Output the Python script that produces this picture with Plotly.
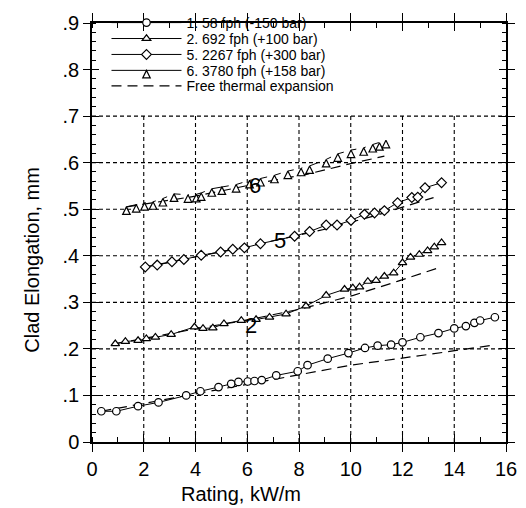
import plotly.graph_objects as go

# ---------------- data ----------------
x_ticks = [0, 2, 4, 6, 8, 10, 12, 14, 16]
x_tick_labels = ["0", "2", "4", "6", "8", "10", "12", "14", "16"]
y_ticks = [0, 0.1, 0.2, 0.3, 0.4, 0.5, 0.6, 0.7, 0.8, 0.9]
y_tick_labels = ["0", ".1", ".2", ".3", ".4", ".5", ".6", ".7", ".8", ".9"]

series_names = ["1. 58 fph (-150 bar)", "2. 692 fph (+100 bar)",
                "5. 2267 fph (+300 bar)", "6. 3780 fph (+158 bar)"]
thermal_name = "Free thermal expansion"

s1_x = [0.36, 0.94, 1.78, 2.57, 3.64, 4.19, 4.89, 5.38, 5.66, 6.02, 6.28, 6.56, 7.12, 7.95,
        8.33, 9.11, 9.91, 10.55, 11.04, 11.56, 12.0, 12.69, 13.39, 14.0, 14.45, 14.78, 15.0, 15.57]
s1_y = [0.066, 0.066, 0.077, 0.085, 0.100, 0.109, 0.118, 0.125, 0.129, 0.130, 0.131, 0.133, 0.143, 0.152,
        0.165, 0.179, 0.191, 0.202, 0.207, 0.209, 0.214, 0.225, 0.234, 0.244, 0.249, 0.256, 0.261, 0.268]

s2_x = [0.90, 1.29, 1.78, 2.10, 2.45, 3.06, 3.96, 4.29, 4.67, 5.10, 5.77, 6.34, 6.86, 7.50, 8.27,
        9.05, 9.76, 10.08, 10.34, 10.66, 10.98, 11.30, 11.66, 12.0, 12.31, 12.65, 12.97, 13.23, 13.51]
s2_y = [0.211, 0.216, 0.218, 0.222, 0.225, 0.231, 0.247, 0.244, 0.245, 0.254, 0.261, 0.263, 0.268, 0.275, 0.292,
        0.315, 0.328, 0.331, 0.333, 0.345, 0.347, 0.356, 0.363, 0.385, 0.397, 0.403, 0.411, 0.419, 0.428]

s3_x = [2.06, 2.52, 3.09, 3.55, 4.22, 4.97, 5.44, 5.89, 6.51, 7.83, 8.41, 9.05, 9.47, 10.01,
        10.53, 10.92, 11.30, 11.81, 12.36, 12.59, 12.87, 13.51]
s3_y = [0.376, 0.380, 0.387, 0.392, 0.401, 0.408, 0.414, 0.417, 0.426, 0.442, 0.452, 0.466, 0.466, 0.476,
        0.489, 0.492, 0.497, 0.514, 0.525, 0.526, 0.546, 0.557]

s4_x = [1.33, 1.71, 2.03, 2.36, 2.74, 3.17, 3.71, 4.03, 4.22, 4.63, 5.02, 5.57, 6.09, 6.51, 7.05,
        7.57, 8.08, 8.41, 9.05, 9.50, 10.01, 10.50, 10.85, 11.11, 11.36]
s4_y = [0.505, 0.510, 0.514, 0.516, 0.523, 0.533, 0.531, 0.532, 0.535, 0.544, 0.548, 0.553, 0.562, 0.566, 0.573,
        0.582, 0.588, 0.593, 0.607, 0.619, 0.627, 0.632, 0.639, 0.643, 0.648]

t1_x = [0.36, 4.0, 7.5, 10.0, 13.0, 15.5]
t1_y = [0.066, 0.103, 0.140, 0.165, 0.188, 0.208]
t2_x = [0.90, 4.0, 6.0, 8.0, 9.5, 10.1, 11.8, 13.5]
t2_y = [0.211, 0.243, 0.262, 0.285, 0.306, 0.315, 0.345, 0.376]
t3_x = [2.06, 6.0, 9.0, 11.0, 13.2]
t3_y = [0.376, 0.420, 0.457, 0.487, 0.525]
t4_x = [1.33, 4.0, 7.0, 8.3, 10.0, 11.3]
t4_y = [0.505, 0.528, 0.562, 0.575, 0.598, 0.614]

curve_labels = ["2", "5", "6"]
curve_label_x = [6.13, 7.25, 6.28]
curve_label_y = [0.251, 0.432, 0.552]

# ---------------- figure ----------------
FONT = "Liberation Sans, Arial, sans-serif"
fig = go.Figure()

legend_ids = ["legend", "legend2", "legend3", "legend4", "legend5"]
series = [(s1_x, s1_y, "circle"), (s2_x, s2_y, "triangle-up"),
          (s3_x, s3_y, "diamond"), (s4_x, s4_y, "arrow-up")]
thermals = [(t1_x, t1_y), (t2_x, t2_y), (t3_x, t3_y), (t4_x, t4_y)]

for i, (tx, ty) in enumerate(thermals):
    fig.add_trace(go.Scatter(
        x=tx, y=ty, mode="lines", name=thermal_name,
        line=dict(color="black", width=1.2, dash="10px,6px"),
        showlegend=(i == 0), legendgroup="thermal", legend=legend_ids[4],
        hoverinfo="skip"))

for i, ((sx, sy, sym), name) in enumerate(zip(series, series_names)):
    fig.add_trace(go.Scatter(
        x=sx, y=sy, mode="lines+markers", name=name, legend=legend_ids[i],
        line=dict(color="black", width=1),
        marker=dict(symbol=sym, size=7.5, color="white",
                    line=dict(color="black", width=1.2))))

# overlay axes for the inner half of the crossing major ticks
fig.add_trace(go.Scatter(x=[], y=[], xaxis="x2", yaxis="y2", showlegend=False))

# dashed grid (only up to .7)
for v in x_ticks[1:-1]:
    fig.add_shape(type="line", x0=v, x1=v, y0=0, y1=y_ticks[7], xref="x", yref="y",
                  line=dict(color="black", width=1.1, dash="4px,3px"), layer="below")
for v in y_ticks[1:8]:
    fig.add_shape(type="line", x0=x_ticks[0], x1=x_ticks[-1], y0=v, y1=v, xref="x", yref="y",
                  line=dict(color="black", width=1.1, dash="4px,3px"), layer="below")

for t, lx, ly in zip(curve_labels, curve_label_x, curve_label_y):
    fig.add_annotation(x=lx, y=ly, text=t, showarrow=False, xref="x", yref="y",
                       font=dict(family=FONT, size=22, color="black"))

fig.add_annotation(text="Rating, kW/m", xref="paper", yref="paper", x=0.36, y=-0.125,
                   showarrow=False, xanchor="center", yanchor="middle",
                   font=dict(family=FONT, size=20, color="black"))
fig.add_annotation(text="Clad Elongation, mm", xref="paper", yref="paper", x=-0.145, y=0.435,
                   showarrow=False, textangle=-90, xanchor="center", yanchor="middle",
                   font=dict(family=FONT, size=20, color="black"))

axis_common = dict(showline=True, linecolor="black", linewidth=1.5, mirror="allticks",
                   showgrid=False, zeroline=False, tickcolor="black", tickwidth=1.3)

legend_rows_y = [1.0, 0.962, 0.924, 0.886, 0.849]
legend_layout = {}
for lid, ly in zip(legend_ids, legend_rows_y):
    legend_layout[lid] = dict(x=0.035, y=ly, xanchor="left", yanchor="middle",
                              bgcolor="rgba(0,0,0,0)", borderwidth=0,
                              font=dict(family=FONT, size=14, color="black"), itemwidth=70)

fig.update_layout(
    width=526, height=508,
    margin=dict(l=84, r=28, t=15, b=74, autoexpand=False),
    paper_bgcolor="white", plot_bgcolor="white",
    font=dict(family=FONT, color="black"),
    xaxis=dict(range=[0, 16], tickvals=x_ticks, ticktext=x_tick_labels, ticks="outside",
               ticklen=8, tickfont=dict(size=20),
               minor=dict(dtick=1, ticks="inside", ticklen=5, tickcolor="black", showgrid=False),
               **axis_common),
    yaxis=dict(range=[0, 0.9], tickvals=y_ticks, ticktext=y_tick_labels, ticks="outside",
               ticklen=7, tickfont=dict(size=20),
               minor=dict(dtick=0.02, ticks="inside", ticklen=4, tickcolor="black", showgrid=False),
               **axis_common),
    xaxis2=dict(range=[0, 16], overlaying="x", anchor="y2", tickvals=x_ticks, ticks="inside",
                ticklen=8, showticklabels=False, **axis_common),
    yaxis2=dict(range=[0, 0.9], overlaying="y", anchor="x2", tickvals=y_ticks, ticks="inside",
                ticklen=7, showticklabels=False, **axis_common),
    showlegend=True,
    **legend_layout,
)

fig.write_html("out.html")
